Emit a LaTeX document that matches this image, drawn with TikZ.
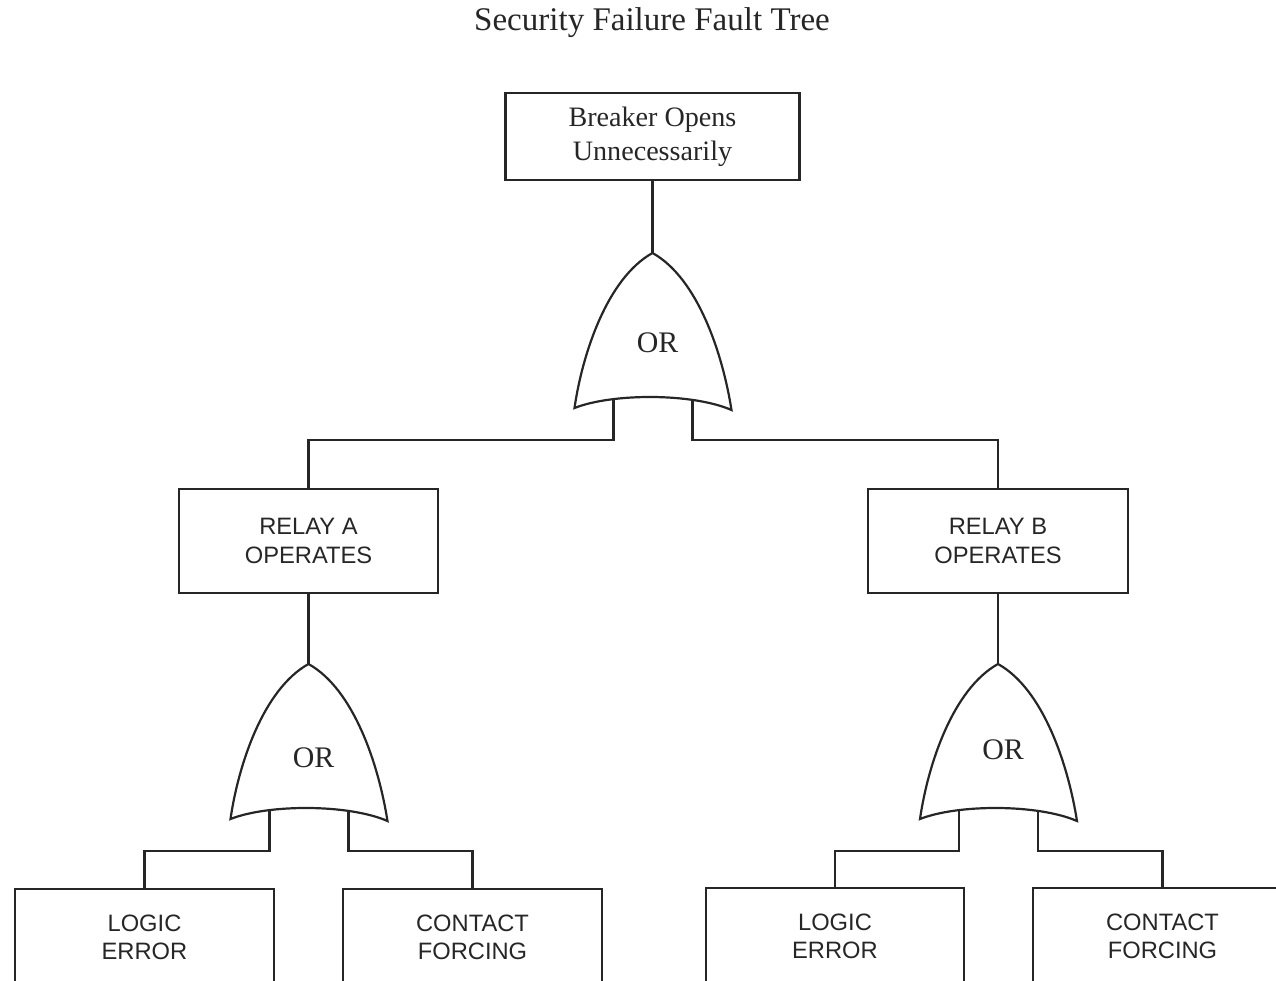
\documentclass[tikz,border=0pt]{standalone}
\usepackage{fontspec}
\setmainfont{Liberation Serif}
\setsansfont{Liberation Sans}
\tikzset{
  event/.style={draw=black!85, line width=1.6pt, align=center, text=black!85,
    font=\fontsize{16}{19.5}\selectfont},
  basic/.style={draw=black!85, line width=1.6pt, align=center, text=black!85,
    font=\sffamily\fontsize{13.5}{16}\selectfont},
  link/.style={draw=black!85, line width=1.5pt, line cap=rect},
  orgate/.pic={
    \draw[draw=black!85, line width=1.25pt] (-78,155) .. controls (-70,100) and (-45,25) .. (0,0)
      .. controls (45,25) and (70,100) .. (79,157)
      .. controls (40,140) and (-40,140) .. cycle;
    \node[text=black!85, font=\fontsize{17}{17}\selectfont] (-txt) at (5,#1) {OR};
    \coordinate (-apex) at (0,0);
    \draw[link] (-39,147) -- (-39,187) coordinate (-l);
    \draw[link] (40,147) -- (40,187) coordinate (-r);
  }
}
\begin{document}
\begin{tikzpicture}[x=0.02cm, y=-0.02cm]
  \useasboundingbox (0,0) rectangle (1276,981);
  \clip (0,0) rectangle (1276,981);

  % title
  \node[text=black!85, font=\fontsize{18.8}{22}\selectfont] (title) at (652,23) {Security Failure Fault Tree};

  % top event
  \node[event, minimum width=294*0.02cm, minimum height=87*0.02cm] (top) at (652.5,136.5) {Breaker Opens\\Unnecessarily};
  \pic (g0) at (652.5,253) {orgate=90};

  % relays
  \node[basic, minimum width=259*0.02cm, minimum height=104*0.02cm] (ra) at (308.5,541) {RELAY A\\OPERATES};
  \node[basic, minimum width=260*0.02cm, minimum height=104*0.02cm] (rb) at (998,541) {RELAY B\\OPERATES};
  \pic (g1) at (308.5,664) {orgate=94};
  \pic (g2) at (998,664) {orgate=86};

  % basic events (cut off at the bottom edge)
  \node[basic, minimum width=259*0.02cm, minimum height=97*0.02cm] (la) at (144.5,937.5) {LOGIC\\ERROR};
  \node[basic, minimum width=259*0.02cm, minimum height=97*0.02cm] (ca) at (472.5,937.5) {CONTACT\\FORCING};
  \node[basic, minimum width=258*0.02cm, minimum height=97*0.02cm] (lb) at (835,936.5) {LOGIC\\ERROR};
  \node[basic, minimum width=259*0.02cm, minimum height=97*0.02cm] (cb) at (1162.5,936.5) {CONTACT\\FORCING};

  % connectors
  \draw[link] (top.south) -- (g0-apex);
  \draw[link] (g0-l) -| (ra.north);
  \draw[link] (g0-r) -| (rb.north);
  \draw[link] (ra.south) -- (g1-apex);
  \draw[link] (rb.south) -- (g2-apex);
  \draw[link] (g1-l) -| (la.north);
  \draw[link] (g1-r) -| (ca.north);
  \draw[link] (g2-l) -| (lb.north);
  \draw[link] (g2-r) -| (cb.north);
\end{tikzpicture}
\end{document}
